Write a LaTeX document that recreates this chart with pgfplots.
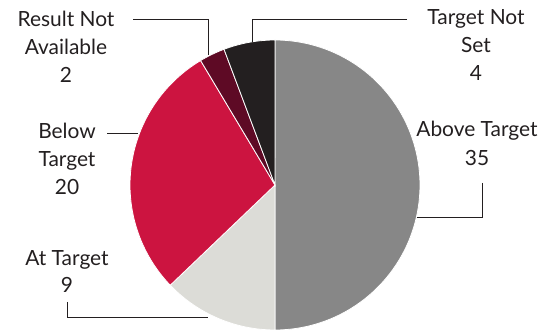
\documentclass[border=0pt]{standalone}
\usepackage{pgfplots}
\pgfplotsset{compat=1.18}
\usepackage{fontspec}
\setmainfont{Lato}
\definecolor{cAbove}{HTML}{878787}
\definecolor{cAt}{HTML}{DCDCD7}
\definecolor{cBelow}{HTML}{CC1440}
\definecolor{cRNA}{HTML}{5E0A25}
\definecolor{cTNS}{HTML}{231F20}
\definecolor{cLine}{HTML}{231F20}
\tikzset{lbl/.style={font=\fontsize{21}{25}\selectfont, text=cLine, inner sep=0pt, anchor=base}}
\begin{document}
\begin{tikzpicture}
\def\cx{275}\def\cy{148}\def\rr{145}\def\tot{70}
\begin{axis}[
  scale only axis, width=542bp, height=333bp,
  xmin=0, xmax=542, ymin=0, ymax=333,
  axis line style={draw=none}, ticks=none, clip=false,
]
\path (axis cs:0,0) rectangle (axis cs:542,333);
% values: Above 35, At 9, Below 20, RNA 2, TNS 4 (total 70)
\addplot[fill=cAbove, draw=white, line width=0.8pt, domain={90-360*0/\tot}:{90-360*35/\tot}, samples=90, variable=\t] ({\cx+\rr*cos(\t)},{\cy+\rr*sin(\t)}) -- (axis cs:\cx,\cy) -- cycle;
\addplot[fill=cAt, draw=white, line width=0.8pt, domain={90-360*35/\tot}:{90-360*44/\tot}, samples=40, variable=\t] ({\cx+\rr*cos(\t)},{\cy+\rr*sin(\t)}) -- (axis cs:\cx,\cy) -- cycle;
\addplot[fill=cBelow, draw=white, line width=0.8pt, domain={90-360*44/\tot}:{90-360*64/\tot}, samples=60, variable=\t] ({\cx+\rr*cos(\t)},{\cy+\rr*sin(\t)}) -- (axis cs:\cx,\cy) -- cycle;
\addplot[fill=cRNA, draw=white, line width=0.8pt, domain={90-360*64/\tot}:{90-360*66/\tot}, samples=12, variable=\t] ({\cx+\rr*cos(\t)},{\cy+\rr*sin(\t)}) -- (axis cs:\cx,\cy) -- cycle;
\addplot[fill=cTNS, draw=white, line width=0.8pt, domain={90-360*66/\tot}:{90-360*70/\tot}, samples=20, variable=\t] ({\cx+\rr*cos(\t)},{\cy+\rr*sin(\t)}) -- (axis cs:\cx,\cy) -- cycle;
% leader lines
\draw[cLine, line width=0.8pt] (axis cs:133,314) -- (axis cs:208,314) -- (axis cs:208,278);
\draw[cLine, line width=0.8pt] (axis cs:407,314) -- (axis cs:252,314) -- (axis cs:252,291);
\draw[cLine, line width=0.8pt] (axis cs:482,150) -- (axis cs:482,116) -- (axis cs:417,116);
\draw[cLine, line width=0.8pt] (axis cs:107,200) -- (axis cs:138,200);
\draw[cLine, line width=0.8pt] (axis cs:67,31) -- (axis cs:67,16) -- (axis cs:208,16);
% labels
\node[lbl] at (axis cs:66,306) {Result Not};
\node[lbl] at (axis cs:66,278) {Available};
\node[lbl] at (axis cs:66,250) {2};
\node[lbl] at (axis cs:476,308) {Target Not};
\node[lbl] at (axis cs:476,280) {Set};
\node[lbl] at (axis cs:476,252) {4};
\node[lbl] at (axis cs:477,196) {Above Target};
\node[lbl] at (axis cs:477,167) {35};
\node[lbl] at (axis cs:67,194) {Below};
\node[lbl] at (axis cs:67,166) {Target};
\node[lbl] at (axis cs:67,138) {20};
\node[lbl] at (axis cs:67,67) {At Target};
\node[lbl] at (axis cs:67,40) {9};
\end{axis}
\end{tikzpicture}
\end{document}
